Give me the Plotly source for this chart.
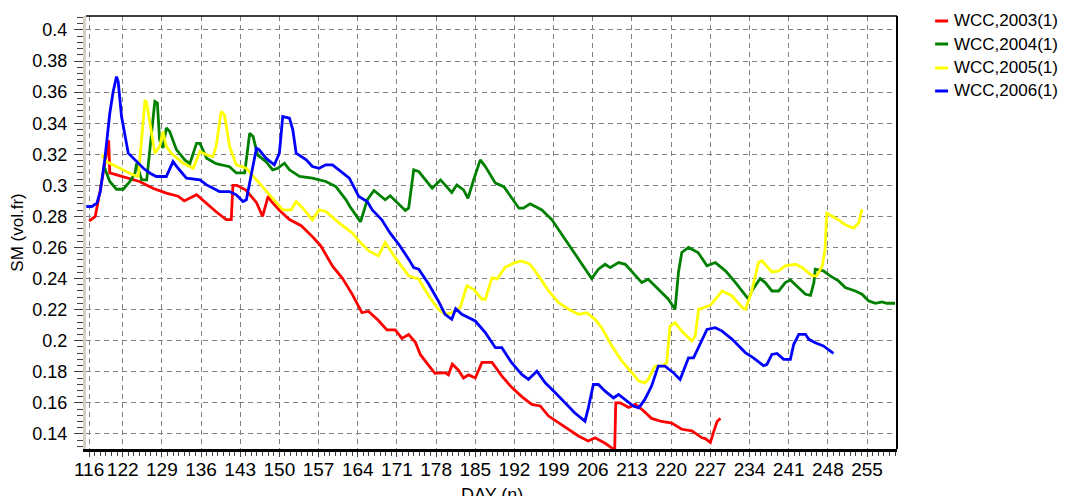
import plotly.graph_objects as go

# soil moisture, WCC site, one series per year
days_2003 = [116.0, 117.1, 118.0, 119.5, 119.7, 122.7, 125.0, 127.5, 129.8, 131.9, 133.0, 135.2, 136.4,
             138.7, 140.5, 141.4, 141.7, 142.4, 144.0, 145.9, 147.0, 148.0, 148.5, 150.0, 151.8, 153.9,
             155.9, 157.4, 159.5, 161.3, 163.0, 164.75, 165.9, 167.7, 169.2, 170.7, 171.9, 173.1, 174.3,
             175.2, 176.7, 177.8, 179.6, 180.2, 180.9, 182.0, 182.9, 183.8, 185.0, 186.2, 188.0, 189.8,
             191.5, 193.3, 195.1, 196.6, 198.1, 199.9, 201.7, 203.5, 205.2, 206.4, 208.2, 209.4, 209.9,
             210.1, 210.9, 212.4, 213.6, 214.7, 216.5, 218.3, 220.1, 221.9, 223.7, 225.5, 226.1, 227.0,
             227.6, 228.2, 228.8]
sm_2003 = [0.277, 0.280, 0.297, 0.329, 0.308, 0.305, 0.3025, 0.298, 0.295, 0.293, 0.290, 0.294, 0.290,
           0.283, 0.278, 0.278, 0.300, 0.300, 0.297, 0.289, 0.280, 0.293, 0.290, 0.284, 0.278, 0.274,
           0.267, 0.261, 0.248, 0.240, 0.230, 0.218, 0.219, 0.213, 0.207, 0.207, 0.2015, 0.204, 0.199,
           0.191, 0.184, 0.179, 0.1795, 0.178, 0.185, 0.181, 0.176, 0.178, 0.176, 0.186, 0.186, 0.177,
           0.170, 0.164, 0.159, 0.158, 0.1515, 0.147, 0.143, 0.1385, 0.1355, 0.1375, 0.134, 0.131, 0.128,
           0.160, 0.160, 0.157, 0.159, 0.156, 0.150, 0.148, 0.147, 0.143, 0.142, 0.1375, 0.137, 0.1345,
           0.1415, 0.148, 0.150]

days_2004 = [118.6, 119.7, 120.9, 122.1, 123.3, 124.2, 124.5, 125.4, 126.3, 127.75, 128.2, 128.6, 129.2,
             129.8, 130.4, 131.6, 133.1, 134.0, 135.2, 135.8, 137.0, 138.7, 141.1, 142.3, 143.8, 144.7,
             145.3, 146.1, 147.6, 148.8, 149.7, 150.9, 151.8, 153.6, 155.9, 158.3, 160.1, 161.9, 162.6,
             164.5, 165.7, 166.9, 168.9, 169.8, 172.5, 173.1, 174.0, 174.9, 177.3, 178.8, 180.8, 181.7,
             182.9, 183.7, 184.7, 185.9, 186.8, 188.6, 190.1, 191.6, 192.8, 193.6, 194.8, 196.9, 198.7,
             200.5, 202.3, 203.4, 205.8, 207.0, 208.2, 209.1, 210.6, 211.8, 213.6, 214.75, 215.9, 217.7,
             219.5, 220.7, 221.3, 221.9, 223.1, 224.8, 226.4, 227.9, 229.7, 231.5, 232.7, 233.8, 234.4,
             235.9, 236.8, 238.0, 239.2, 240.4, 241.3, 242.5, 244.0, 244.9, 245.5, 245.75, 246.3, 247.2,
             248.4, 249.9, 251.1, 252.9, 254.1, 255.3, 256.5, 257.7, 258.5, 260.0]
sm_2004 = [0.313, 0.3025, 0.2975, 0.2975, 0.3025, 0.3078, 0.314, 0.3035, 0.3035, 0.354, 0.353, 0.329, 0.324,
           0.337, 0.3346, 0.323, 0.3164, 0.314, 0.327, 0.327, 0.3175, 0.314, 0.312, 0.308, 0.308, 0.3335,
           0.3315, 0.3196, 0.3153, 0.310, 0.311, 0.3143, 0.310, 0.3057, 0.3046, 0.3025, 0.2992, 0.2907, 0.2864,
           0.2765, 0.2907, 0.2967, 0.2907, 0.2933, 0.2838, 0.2853, 0.310, 0.3089, 0.2982, 0.3035, 0.2954, 0.3003,
           0.2971, 0.2917, 0.3035, 0.3164, 0.3121, 0.3014, 0.2992, 0.2917, 0.2853, 0.2853, 0.2881, 0.2842, 0.2778,
           0.2682, 0.2585, 0.2525, 0.240, 0.246, 0.2492, 0.247, 0.2503, 0.2492, 0.2417, 0.2374, 0.2396, 0.2331,
           0.2267, 0.2202, 0.2439, 0.2568, 0.260, 0.2568, 0.2482, 0.2503, 0.245, 0.2374, 0.232, 0.2267, 0.232,
           0.240, 0.2374, 0.232, 0.232, 0.2374, 0.2391, 0.2353, 0.2299, 0.2292, 0.2374, 0.246, 0.2456, 0.245,
           0.2417, 0.2385, 0.2342, 0.232, 0.2299, 0.2256, 0.2241, 0.225, 0.2241, 0.2241]

days_2005 = [118.3, 119.1, 121.5, 123.9, 124.8, 126.0, 126.3, 127.75, 128.6, 129.2, 129.8, 130.7, 132.8,
             134.6, 135.2, 135.8, 137.0, 138.1, 138.7, 139.6, 140.2, 141.1, 142.3, 144.1, 145.9, 148.2,
             150.6, 152.1, 153.0, 154.2, 155.9, 157.1, 158.3, 160.7, 163.1, 164.25, 166.0, 167.7, 168.9,
             170.7, 173.1, 174.9, 176.7, 178.4, 179.6, 180.8, 182.3, 183.5, 184.7, 186.2, 186.8, 188.0,
             188.9, 190.3, 192.1, 193.3, 194.8, 196.3, 198.1, 199.9, 201.7, 203.4, 204.9, 206.4, 207.6,
             209.4, 211.2, 213.0, 214.2, 215.3, 215.9, 217.1, 218.3, 219.2, 219.8, 220.7, 221.9, 223.7,
             224.3, 224.9, 227.0, 229.1, 230.9, 232.7, 233.3, 234.4, 235.6, 236.2, 238.0, 239.2, 240.4,
             242.2, 243.4, 245.2, 246.0, 247.0, 247.5, 247.8, 248.4, 249.9, 251.1, 252.6, 253.5, 254.1]
sm_2005 = [0.3196, 0.3153, 0.311, 0.3067, 0.3057, 0.355, 0.3528, 0.3207, 0.325, 0.3346, 0.325, 0.3207, 0.3142,
           0.311, 0.3164, 0.3218, 0.3196, 0.3185, 0.325, 0.3475, 0.3453, 0.325, 0.3132, 0.311, 0.3035, 0.2939,
           0.2842, 0.2842, 0.2896, 0.2853, 0.2778, 0.2842, 0.2832, 0.2757, 0.2692, 0.264, 0.2578, 0.2546, 0.2632,
           0.2535, 0.2417, 0.2396, 0.2288, 0.2202, 0.217, 0.218, 0.2213, 0.2353, 0.2331, 0.2267, 0.2267, 0.2406,
           0.2396, 0.2471, 0.2503, 0.2514, 0.2492, 0.2417, 0.232, 0.2245, 0.2202, 0.217, 0.218, 0.2138, 0.2084,
           0.1966, 0.1869, 0.1794, 0.174, 0.1729, 0.1751, 0.1837, 0.1837, 0.1858, 0.2095, 0.2116, 0.2062, 0.1998,
           0.203, 0.2202, 0.2228, 0.232, 0.2288, 0.2213, 0.2202, 0.232, 0.2503, 0.2514, 0.2443, 0.245, 0.2482,
           0.2492, 0.2471, 0.2417, 0.2417, 0.2482, 0.259, 0.2821, 0.281, 0.2778, 0.2746, 0.2725, 0.2757, 0.2847]

days_2006 = [115.5, 116.5, 117.4, 118.0, 118.8, 119.7, 120.3, 120.9, 121.2, 121.8, 123.0, 124.2, 125.7,
             126.9, 128.0, 129.8, 131.0, 131.9, 133.4, 135.8, 137.0, 139.3, 141.1, 142.3, 143.5, 144.1,
             145.9, 146.4, 147.6, 149.1, 150.0, 150.6, 151.8, 152.4, 153.0, 154.8, 155.9, 157.1, 158.3,
             159.5, 160.7, 162.5, 164.2, 165.1, 165.7, 166.6, 168.3, 169.8, 171.3, 173.1, 174.0, 174.9,
             176.7, 178.4, 179.6, 180.8, 181.5, 182.6, 185.0, 186.8, 188.6, 189.75, 191.5, 193.3, 194.5,
             196.0, 197.5, 199.3, 201.1, 202.8, 204.6, 205.2, 206.1, 207.0, 208.2, 209.7, 210.6, 211.8,
             213.3, 214.2, 215.3, 216.5, 217.7, 218.9, 220.4, 221.6, 222.5, 223.1, 224.0, 225.5, 226.4,
             227.9, 229.1, 230.9, 233.3, 234.7, 236.5, 237.1, 238.0, 238.9, 240.1, 241.3, 241.9, 242.8,
             244.0, 244.6, 245.75, 247.2, 249.0]
sm_2006 = [0.2864, 0.2864, 0.2885, 0.296, 0.3164, 0.3464, 0.3603, 0.370, 0.3668, 0.3443, 0.3207, 0.3164, 0.311,
           0.3078, 0.3057, 0.3057, 0.3153, 0.311, 0.3046, 0.3035, 0.3003, 0.296, 0.296, 0.2939, 0.2896, 0.2907,
           0.3239, 0.3228, 0.3175, 0.3132, 0.3207, 0.3443, 0.3432, 0.3357, 0.3207, 0.3164, 0.3121, 0.311, 0.3132,
           0.3132, 0.310, 0.3046, 0.2928, 0.2907, 0.2896, 0.2842, 0.2778, 0.2692, 0.2622, 0.2525, 0.2471, 0.246,
           0.2363, 0.2256, 0.217, 0.2138, 0.2206, 0.217, 0.2127, 0.2052, 0.1955, 0.1955, 0.1858, 0.1783, 0.1751,
           0.1804, 0.1729, 0.1665, 0.160, 0.1535, 0.1482, 0.1568, 0.1718, 0.1718, 0.1675, 0.1632, 0.1654, 0.1622,
           0.1578, 0.1568, 0.1622, 0.1708, 0.1837, 0.1837, 0.1794, 0.1751, 0.1837, 0.189, 0.189, 0.2009, 0.2073,
           0.2084, 0.2062, 0.2009, 0.1922, 0.189, 0.184, 0.1847, 0.1912, 0.1918, 0.188, 0.188, 0.1977, 0.2041,
           0.2041, 0.2009, 0.1987, 0.1966, 0.1918]

series_names = ["WCC,2003(1)", "WCC,2004(1)", "WCC,2005(1)", "WCC,2006(1)"]
series_colors = ["#ff0000", "#008000", "#ffff00", "#0000ff"]

x_ticks = [116, 122, 129, 136, 143, 150, 157, 164, 171, 178, 185, 192, 199, 206, 213, 220, 227, 234, 241, 248, 255]
y_ticks = [0.14, 0.16, 0.18, 0.2, 0.22, 0.24, 0.26, 0.28, 0.3, 0.32, 0.34, 0.36, 0.38, 0.4]
y_tick_text = ["0.14", "0.16", "0.18", "0.2", "0.22", "0.24", "0.26", "0.28", "0.3", "0.32", "0.34", "0.36", "0.38", "0.4"]

font_family = "Liberation Sans, Arial, sans-serif"

fig = go.Figure()
all_days = [days_2003, days_2004, days_2005, days_2006]
all_sm = [sm_2003, sm_2004, sm_2005, sm_2006]
for name, color, xs, ys in zip(series_names, series_colors, all_days, all_sm):
    fig.add_trace(go.Scatter(x=xs, y=ys, mode="lines", name=name,
                             line=dict(color=color, width=2.8), showlegend=False))

# hand-drawn legend (short colour dashes like the original)
shapes = []
annotations = []
legend_rows = [0.9885, 0.9353, 0.880, 0.8268]
for name, color, ly in zip(series_names, series_colors, legend_rows):
    shapes.append(dict(type="line", xref="paper", yref="paper", x0=1.047, x1=1.063, y0=ly, y1=ly,
                       line=dict(color=color, width=3)))
    annotations.append(dict(xref="paper", yref="paper", x=1.068, y=ly, text=name, showarrow=False,
                            xanchor="left", yanchor="middle", font=dict(family=font_family, size=17, color="#000")))

# x axis title as annotation (axis title standoff is ignored without automargin)
annotations.append(dict(xref="paper", yref="paper", x=0.5, y=-0.106, text="DAY (n)", showarrow=False,
                        xanchor="center", yanchor="middle", font=dict(family=font_family, size=18, color="#000")))

# frame: thin black top, black right
shapes.append(dict(type="line", xref="paper", yref="paper", x0=0, x1=1, y0=1, y1=1,
                   line=dict(color="#000", width=1.5)))
shapes.append(dict(type="line", xref="paper", yref="paper", x0=1, x1=1, y0=0, y1=1,
                   line=dict(color="#000", width=2)))

# the page body adds an 8px margin, so the figure is sized to sit inside the window
fig.update_layout(
    width=1055, height=488,
    margin=dict(l=78, r=166, t=8, b=47),
    plot_bgcolor="white", paper_bgcolor="white",
    shapes=shapes, annotations=annotations,
    xaxis=dict(
        range=[115.45, 260.35], tickvals=x_ticks, tickangle=0, ticks="outside", ticklen=5, tickcolor="#404040",
        minor=dict(dtick=1, tick0=116, ticks="outside", ticklen=4, tickcolor="#404040", showgrid=False),
        showgrid=True, gridcolor="#808080", griddash="5px,4px", gridwidth=1,
        showline=True, linecolor="#000", linewidth=3, zeroline=False, automargin=False,
        tickfont=dict(family=font_family, size=19, color="#000"), ticklabelstandoff=-4,
    ),
    yaxis=dict(
        range=[0.1303, 0.409], tickvals=y_ticks, ticktext=y_tick_text, ticks="outside", ticklen=9,
        tickcolor="#404040",
        minor=dict(dtick=0.004, tick0=0, ticks="outside", ticklen=6, tickcolor="#404040", showgrid=False),
        showgrid=True, gridcolor="#808080", griddash="5px,4px", gridwidth=1,
        showline=True, linecolor="#d4d0c8", linewidth=3, zeroline=False, automargin=False,
        tickfont=dict(family=font_family, size=18, color="#000"), ticklabelstandoff=3,
        title=dict(text="SM (vol.fr)", font=dict(family=font_family, size=17, color="#000"), standoff=10),
    ),
)

fig.write_html("out.html")
